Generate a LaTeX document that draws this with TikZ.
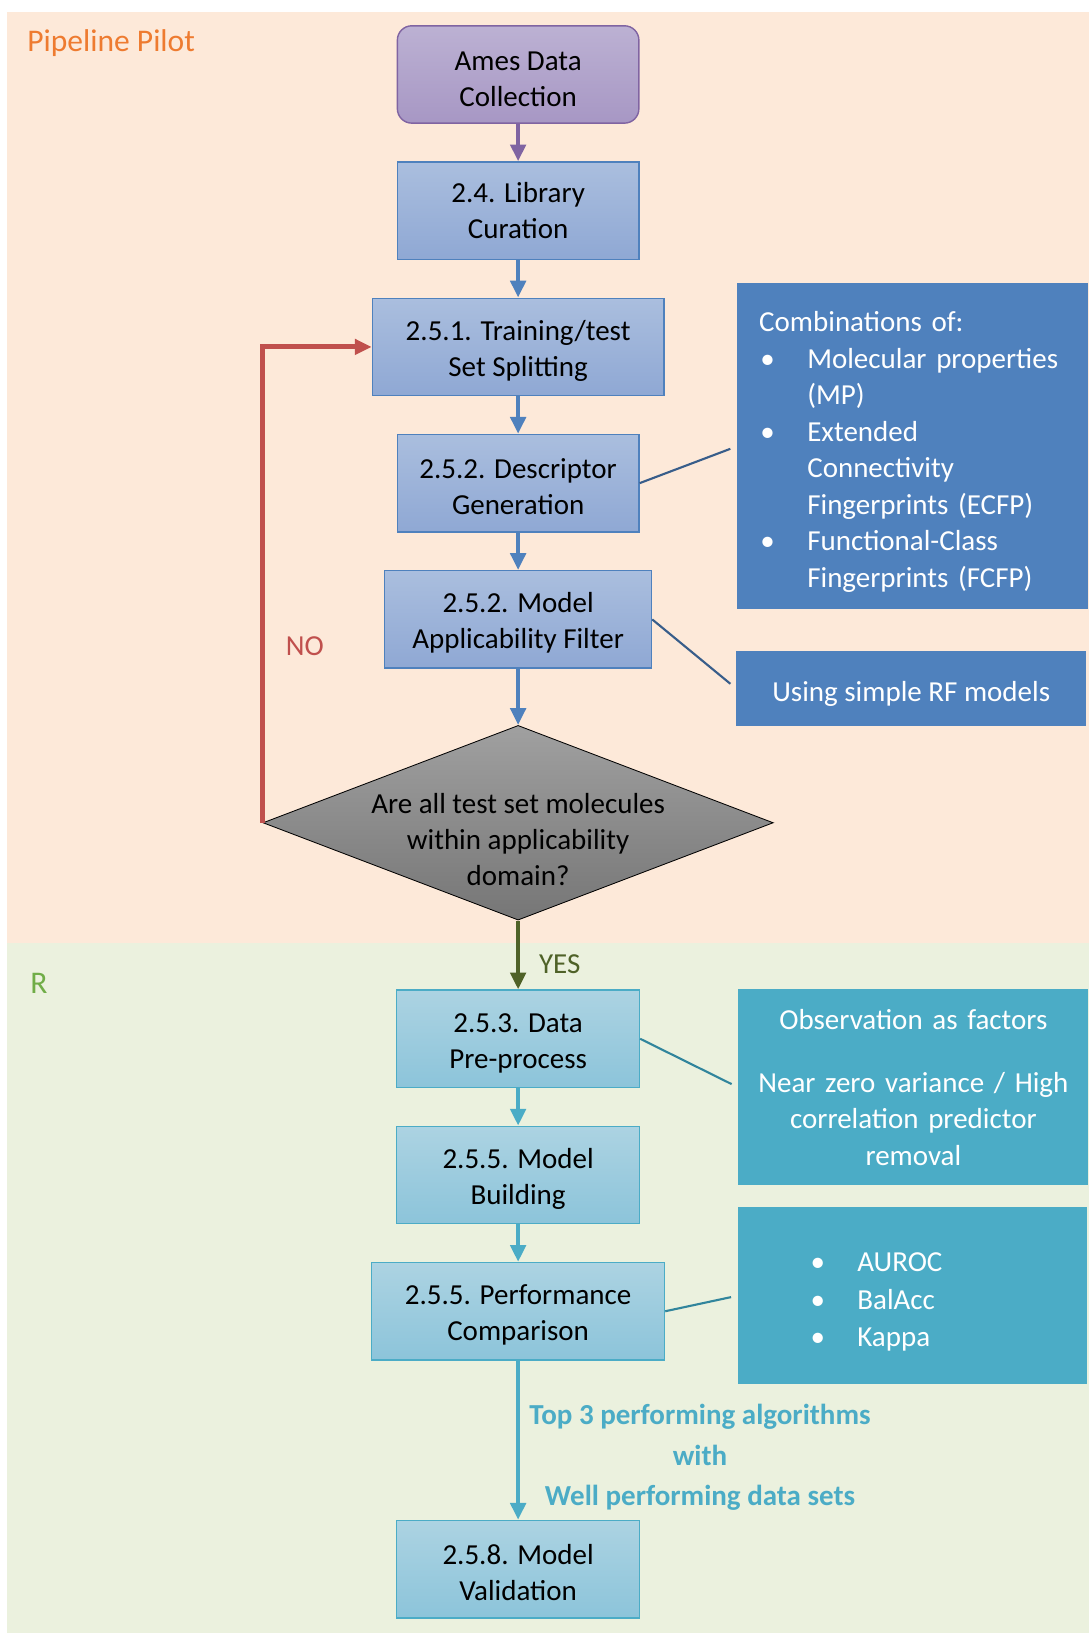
\documentclass[tikz,border=0pt]{standalone}
\usepackage{fontspec}
\setmainfont{Carlito}
\usepackage{xcolor}
\definecolor{peachBack}{HTML}{FDE9D9}
\definecolor{oliveBack}{HTML}{EBF1DE}
\definecolor{pilotOrange}{HTML}{EE7B30}
\definecolor{rGreen}{HTML}{70AD47}
\definecolor{amesPurple}{HTML}{8064A2}
\definecolor{amesTop}{HTML}{BCB1D3}
\definecolor{amesBottom}{HTML}{A797C4}
\definecolor{stepBlue}{HTML}{4F81BD}
\definecolor{blueTop}{HTML}{AABEDE}
\definecolor{blueBottom}{HTML}{8FA8D4}
\definecolor{stepTeal}{HTML}{4BACC6}
\definecolor{tealTop}{HTML}{ACD3E2}
\definecolor{tealBottom}{HTML}{8CC4DA}
\definecolor{grayTop}{HTML}{A0A0A0}
\definecolor{grayBottom}{HTML}{767676}
\definecolor{noRed}{HTML}{C0504D}
\definecolor{yesGreen}{HTML}{4F6228}
\definecolor{linkBlue}{HTML}{385D8A}
\definecolor{linkTeal}{HTML}{31859C}
\usepackage{tikz}
\usetikzlibrary{
    shapes.geometric,
    arrows.meta,
    positioning
}
\newcommand{\bulitem}{\makebox[1.2cm][l]{\hspace{0.03cm}\textbullet}}
\newcommand{\bulskip}{\hspace*{1.2cm}}
\newcommand{\toprule}{\rule{0pt}{22.5pt}}
\newcommand{\boxstrut}{\rule{0pt}{19.5pt}}
\tikzset{
    % Base style for all flow boxes
    box base/.style={
        font=\fontsize{20.6}{25.6}\selectfont,
        align=center,
        text=black,
        minimum height=2.43cm,
        inner sep=2pt,
        line width=1pt,
    },
    % Start node - rounded purple box
    startstop/.style={
        box base,
        rectangle,
        rounded corners=0.36cm,
        minimum width=6.03cm,
        draw=amesPurple,
        top color=amesTop,
        bottom color=amesBottom,
    },
    % Pipeline Pilot steps - blue gradient
    process/.style={
        box base,
        rectangle,
        minimum width=6.03cm,
        draw=stepBlue,
        top color=blueTop,
        bottom color=blueBottom,
    },
    % R steps - teal gradient
    rprocess/.style={
        box base,
        rectangle,
        minimum width=6.06cm,
        draw=stepTeal,
        top color=tealTop,
        bottom color=tealBottom,
    },
    % Decision diamond - gray gradient
    decision/.style={
        diamond,
        draw=black,
        line width=0.6pt,
        minimum width=12.74cm,
        minimum height=4.86cm,
        inner sep=0pt,
        top color=grayTop,
        bottom color=grayBottom,
    },
    decision text/.style={
        font=\fontsize{20.6}{25.6}\selectfont,
        align=center,
        inner sep=0pt,
    },
    % Side notes - flat fill, white text
    note/.style={
        font=\fontsize{20.6}{25.9}\selectfont,
        fill=stepBlue,
        text=white,
        align=center,
    },
    rnote/.style={
        note,
        fill=stepTeal,
    },
    % Arrows between the steps
    arrow/.style={
        -{Triangle[length=0.42cm, width=0.38cm]},
        line width=3pt,
        draw=stepBlue,
    },
    % Thin line to a side note
    link/.style={
        line width=1.5pt,
        shorten >=0.18cm,
    },
    % Labels
    region label/.style={
        font=\fontsize{22.4}{27}\selectfont,
        anchor=base west,
        inner sep=0pt,
    },
    edge label/.style={
        font=\fontsize{20.6}{25.6}\selectfont,
        inner sep=0pt,
    },
}

\begin{document}
\begin{tikzpicture}[x=0.026cm, y=-0.026cm, node distance=0.936cm]
    \useasboundingbox (0,0) rectangle (1046,1568);
    % regions
    \fill [peachBack] (7,12) rectangle (1046,905);
    \fill [oliveBack] (7,905) rectangle (1046,1568);
    \node (pilot) [region label, text=pilotOrange] at (26,49.6) {Pipeline Pilot};
    \node (rtool) [region label, text=rGreen] at (29,953.5) {R};

    % main flow
    \node (ames) [startstop] at (497.5,71.5) {\boxstrut Ames Data\\Collection};
    \node (curate) [process, below=of ames] {2.4. Library\\Curation};
    \node (split) [process, minimum width=7.28cm, below=of curate] {\boxstrut 2.5.1. Training/test\\Set Splitting};
    \node (descr) [process, below=of split] {\boxstrut 2.5.2. Descriptor\\Generation};
    \node (filter) [process, minimum width=6.66cm, below=of descr] {\boxstrut 2.5.2. Model\\Applicability Filter};
    \node (check) [decision, below=1.404cm of filter] {};
    \node (question) [decision text] at ([yshift=-0.43cm]check.center) {Are all test set molecules\\within applicability\\domain?};
    \node (preproc) [rprocess, below=1.72cm of check] {\boxstrut 2.5.3. Data\\Pre-process};
    \node (build) [rprocess, below=of preproc] {\boxstrut 2.5.5. Model\\Building};
    \node (compare) [rprocess, minimum width=7.31cm, below=of build] {\boxstrut 2.5.5. Performance\\Comparison};
    \node (validate) [rprocess, below=3.974cm of compare] {\boxstrut 2.5.8. Model\\Validation};

    % side notes
    \node (combo) [note, minimum width=8.76cm, minimum height=8.14cm, text width=7.67cm, inner xsep=0.546cm, align=left] at (876.5,428.5) {\toprule Combinations of:\\
        \bulitem Molecular properties\\
        \bulskip (MP)\\
        \bulitem Extended\\
        \bulskip Connectivity\\
        \bulskip Fingerprints (ECFP)\\
        \bulitem Functional-Class\\
        \bulskip Fingerprints (FCFP)};
    \node (rfmodels) [note, minimum width=8.74cm, minimum height=1.87cm, text height=22.5pt, text depth=4.3pt] at (875,661) {Using simple RF models};
    \node (factors) [rnote, minimum width=8.74cm, minimum height=4.89cm, text width=8.2cm] at (877,1044) {Observation as factors\\[0.66cm]Near zero variance / High\\correlation predictor\\removal};
    \node (metrics) [rnote, minimum width=8.71cm, minimum height=4.42cm, text width=5.17cm, inner xsep=1.77cm, align=left, font=\fontsize{20.6}{26.6}\selectfont] at (876.5,1244) {\toprule\bulitem AUROC\\\bulitem BalAcc\\\bulitem Kappa};

    % arrows
    \draw [arrow, draw=amesPurple] (ames) -- (curate);
    \draw [arrow] (curate) -- (split);
    \draw [arrow] (split) -- (descr);
    \draw [arrow] (descr) -- (filter);
    \draw [arrow] (filter) -- (check);
    \draw [arrow, draw=noRed, line width=3.5pt] (check.west) |- node [edge label, pos=0.186, right=0.52cm, text=noRed] {NO} (split.west);
    \draw [arrow, draw=yesGreen] (check) -- node [edge label, right=0.47cm, yshift=-0.23cm, text=yesGreen] {YES} (preproc);
    \draw [arrow, draw=stepTeal] (preproc) -- (build);
    \draw [arrow, draw=stepTeal] (build) -- (compare);
    \draw [arrow, draw=stepTeal] (compare) -- node [edge label, right=0.23cm, yshift=-0.43cm, text=stepTeal, font=\fontsize{20.6}{28.8}\selectfont\bfseries, align=center] {Top 3 performing algorithms\\with\\Well performing data sets} (validate);

    % links to side notes
    \draw [link, draw=linkBlue] (descr.east) -- (combo.west);
    \draw [link, draw=linkBlue] (filter.east) -- (rfmodels.west);
    \draw [link, draw=linkTeal] (preproc.east) -- (factors.west);
    \draw [link, draw=linkTeal] (compare.east) -- (metrics.west);
\end{tikzpicture}
\end{document}
